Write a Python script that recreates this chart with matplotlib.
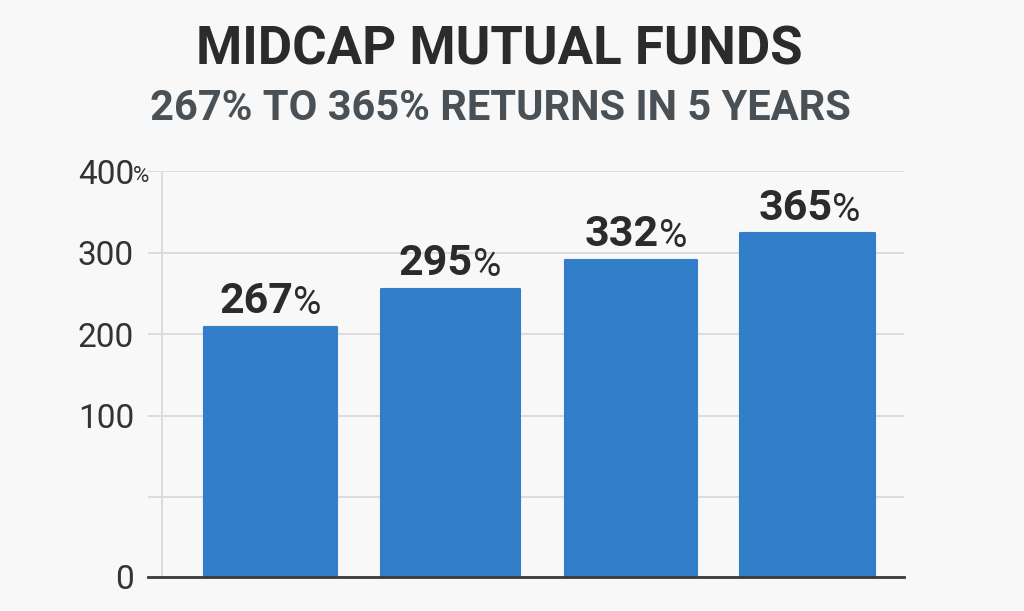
import matplotlib
matplotlib.use("Agg")
import matplotlib.pyplot as plt

plt.rcParams['font.family'] = ['Roboto', 'DejaVu Sans']

# Data (bar heights, labels as printed on the chart)
categories = [0, 1, 2, 3]
bar_heights = [308, 355, 390, 423]
bar_labels = ["267", "295", "332", "365"]
tick_positions = [0, 98, 198, 299, 399, 500]
tick_labels = ["0", "", "100", "200", "300", "400"]

# Layout tweaks, the bars are not quite evenly placed in the original
x_shift = [0, 0.008, 0.014, 0]
bar_width = [0.743, 0.776, 0.739, 0.754]
label_shift = [-10.4, -10.7, -6.4, -8.6]

bg = "#f8f8f8"
fig = plt.figure(figsize=(10.24, 6.11), dpi=100, facecolor=bg)
ax = fig.add_axes([148 / 1024, 1 - 576.5 / 611, 756 / 1024, 405.5 / 611], facecolor=bg)

# Bars, a thin round edge gives the slightly soft corners
bar_x = [c + s for c, s in zip(categories, x_shift)]
ax.bar(bar_x, bar_heights, width=bar_width, color="#337ec8", edgecolor="#337ec8", linewidth=1.5,
       joinstyle="round", zorder=3)

# Value labels, the % sign is lighter than the number
for x, h, lab, dx in zip(bar_x, bar_heights, bar_labels, label_shift):
    t = ax.annotate(lab, (x, h), xytext=(dx, 3.5), textcoords="offset points", ha="center", va="bottom",
                    fontsize=31, fontweight="bold", color="#2b2b2b", zorder=4)
    ax.annotate("%", (1, 0), xycoords=t, xytext=(0, 0), textcoords="offset points", ha="left", va="bottom",
                fontsize=28, color="#2b2b2b", zorder=4)

# Axes
ax.set_xlim(-0.684, 3.54)
ax.set_ylim(0, 500)
ax.set_yticks(tick_positions)
ax.set_yticklabels(tick_labels, fontsize=24, color="#333333")
ax.tick_params(axis="y", length=0, pad=10)
ax.set_xticks([])
ax.grid(axis="y", color="#dcdcdc", linewidth=1.4, zorder=0)
ax.axvline(-0.604, color="#dcdcdc", linewidth=1.4, zorder=1)
for side in ["top", "right", "left"]:
    ax.spines[side].set_visible(False)
ax.spines["bottom"].set_color("#3a3a3a")
ax.spines["bottom"].set_linewidth(2)
ax.spines["bottom"].set_zorder(5)

# Small % next to the top tick label
fig.text(133 / 1024, 1 - 176 / 611, "%", fontsize=16, color="#333333", ha="left", va="center")

# Titles
fig.text(499 / 1024, 1 - 50 / 611, "MIDCAP MUTUAL FUNDS", fontsize=38, fontweight="bold",
         color="#2b2b2b", ha="center", va="center")
fig.text(500 / 1024, 1 - 109 / 611, "267% TO 365% RETURNS IN 5 YEARS", fontsize=30, fontweight="bold",
         color="#4a5156", ha="center", va="center")

fig.savefig("out.png", dpi=100, facecolor=bg)
